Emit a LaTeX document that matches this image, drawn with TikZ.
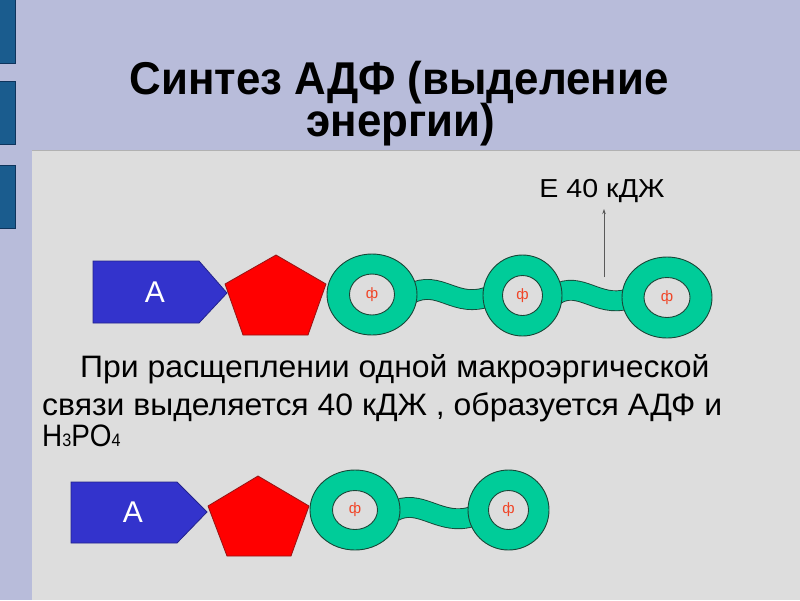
\documentclass[tikz,border=0pt]{standalone}
\usepackage{fontspec}
\setmainfont{Liberation Sans}
\usetikzlibrary{shapes.geometric,arrows.meta}
\definecolor{bg}{RGB}{184,188,218}
\definecolor{panel}{RGB}{221,221,221}
\definecolor{barblue}{RGB}{26,92,142}
\definecolor{barborder}{RGB}{14,52,92}
\definecolor{ablue}{RGB}{51,51,204}
\definecolor{ablueline}{RGB}{35,35,140}
\definecolor{ringgreen}{RGB}{0,204,153}
\definecolor{ringline}{RGB}{25,70,55}
\definecolor{phired}{RGB}{240,70,40}
\definecolor{pentred}{RGB}{255,0,0}
\definecolor{pentline}{RGB}{150,20,20}
\tikzset{
  bar/.style={fill=barblue,draw=barborder,line width=1},
  outerring/.style={ellipse,fill=ringgreen,draw=ringline,line width=0.9,inner sep=0pt},
  innerring/.style={ellipse,fill=panel,draw=ringline,line width=0.9,inner sep=0pt,text=phired,font=\fontsize{15}{15}\selectfont},
  wave/.style={draw=ringline,line width=0.9,double=ringgreen,double distance=19},
  adenin/.style={fill=ablue,draw=ablueline,line width=0.8},
  ribose/.style={fill=pentred,draw=pentline,line width=0.8},
  alabel/.style={text=white,font=\fontsize{30}{30}\selectfont},
  titletext/.style={font=\fontsize{46}{46}\selectfont\bfseries,anchor=base,inner sep=0pt,xscale=0.953},
  bodytext/.style={font=\fontsize{31}{31}\selectfont,anchor=base west,inner sep=0pt}
}
\begin{document}
\begin{tikzpicture}[x=1pt,y=-1pt]
\fill[bg] (0,0) rectangle (800,600);
\useasboundingbox (0,0) rectangle (800,600);
% left bars
\draw[bar] (-2,-2) rectangle (15,63);
\draw[bar] (-2,81) rectangle (15,144);
\draw[bar] (-2,165) rectangle (15,228);
% panel
\fill[panel] (32,150) rectangle (800,600);
\draw[black!20!panel,line width=1] (32,150.5) -- (800,150.5);
% title
\node[titletext] (t1) at (399,94) {Синтез АДФ (выделение};
\node[titletext] (t2) at (401,136) {энергии)};
% energy label
\node[font=\fontsize{26}{26}\selectfont,anchor=base,inner sep=0pt,xscale=1.1] (en) at (602,197) {Е 40 кДЖ};
\coordinate (arrtop) at (604,209);
\coordinate (arrbot) at (604,277);
\draw[gray!70!black,line width=0.8,-{Stealth[length=5pt,width=3.5pt]}] (arrbot) -- (arrtop);
% ---- row 1 ----
\coordinate (r1c) at (372,294.5);
\coordinate (r2c) at (522.5,295.5);
\coordinate (r3c) at (667,297.5);
\draw[wave] (410,294) .. controls (440,278) and (455,310) .. (490,296);
\draw[wave] (556,294.5) .. controls (580,280) and (598,308) .. (628,299);
\node[outerring,minimum width=90,minimum height=81] (r1) at (r1c) {};
\node[innerring,minimum width=45,minimum height=41] (i1) at (r1c) {ф};
\node[outerring,minimum width=79,minimum height=81] (r2) at (r2c) {};
\node[innerring,minimum width=40,minimum height=40] (i2) at (r2c) {ф};
\node[outerring,minimum width=90,minimum height=81] (r3) at (r3c) {};
\node[innerring,minimum width=46,minimum height=40] (i3) at (r3c) {ф};
\draw[ribose] (276,255) -- (326,284) -- (308,335) -- (243,335) -- (225,284) -- cycle;
\draw[adenin] (93,261) -- (199,261) -- (227,293) -- (199,323) -- (93,323) -- cycle;
\node[alabel] (a1) at (155,292) {А};
% body text
\node[bodytext,xscale=1.03] (b1) at (80,377) {При расщеплении одной макроэргической};
\node[bodytext,xscale=1.03] (b2) at (42,415) {связи выделяется 40 кДЖ , образуется АДФ и};
\node[bodytext,xscale=0.9] (b3) at (42,446) {H{\fontsize{18}{18}\selectfont 3}PO{\fontsize{18}{18}\selectfont 4}};
% ---- row 2 ----
\coordinate (s1c) at (355,510);
\coordinate (s2c) at (508.5,510);
\draw[wave] (393,512) .. controls (420,496) and (440,528) .. (474,516);
\node[outerring,minimum width=90,minimum height=80] (s1) at (s1c) {};
\node[innerring,minimum width=45,minimum height=39] (j1) at (s1c) {ф};
\node[outerring,minimum width=81,minimum height=80] (s2) at (s2c) {};
\node[innerring,minimum width=40,minimum height=39] (j2) at (s2c) {ф};
\draw[ribose] (258,476) -- (309,506) -- (291,556) -- (227,556) -- (208,506) -- cycle;
\draw[adenin] (71,482) -- (177,482) -- (207,512) -- (177,543) -- (71,543) -- cycle;
\node[alabel] (a2) at (133,512) {А};
\end{tikzpicture}
\end{document}
